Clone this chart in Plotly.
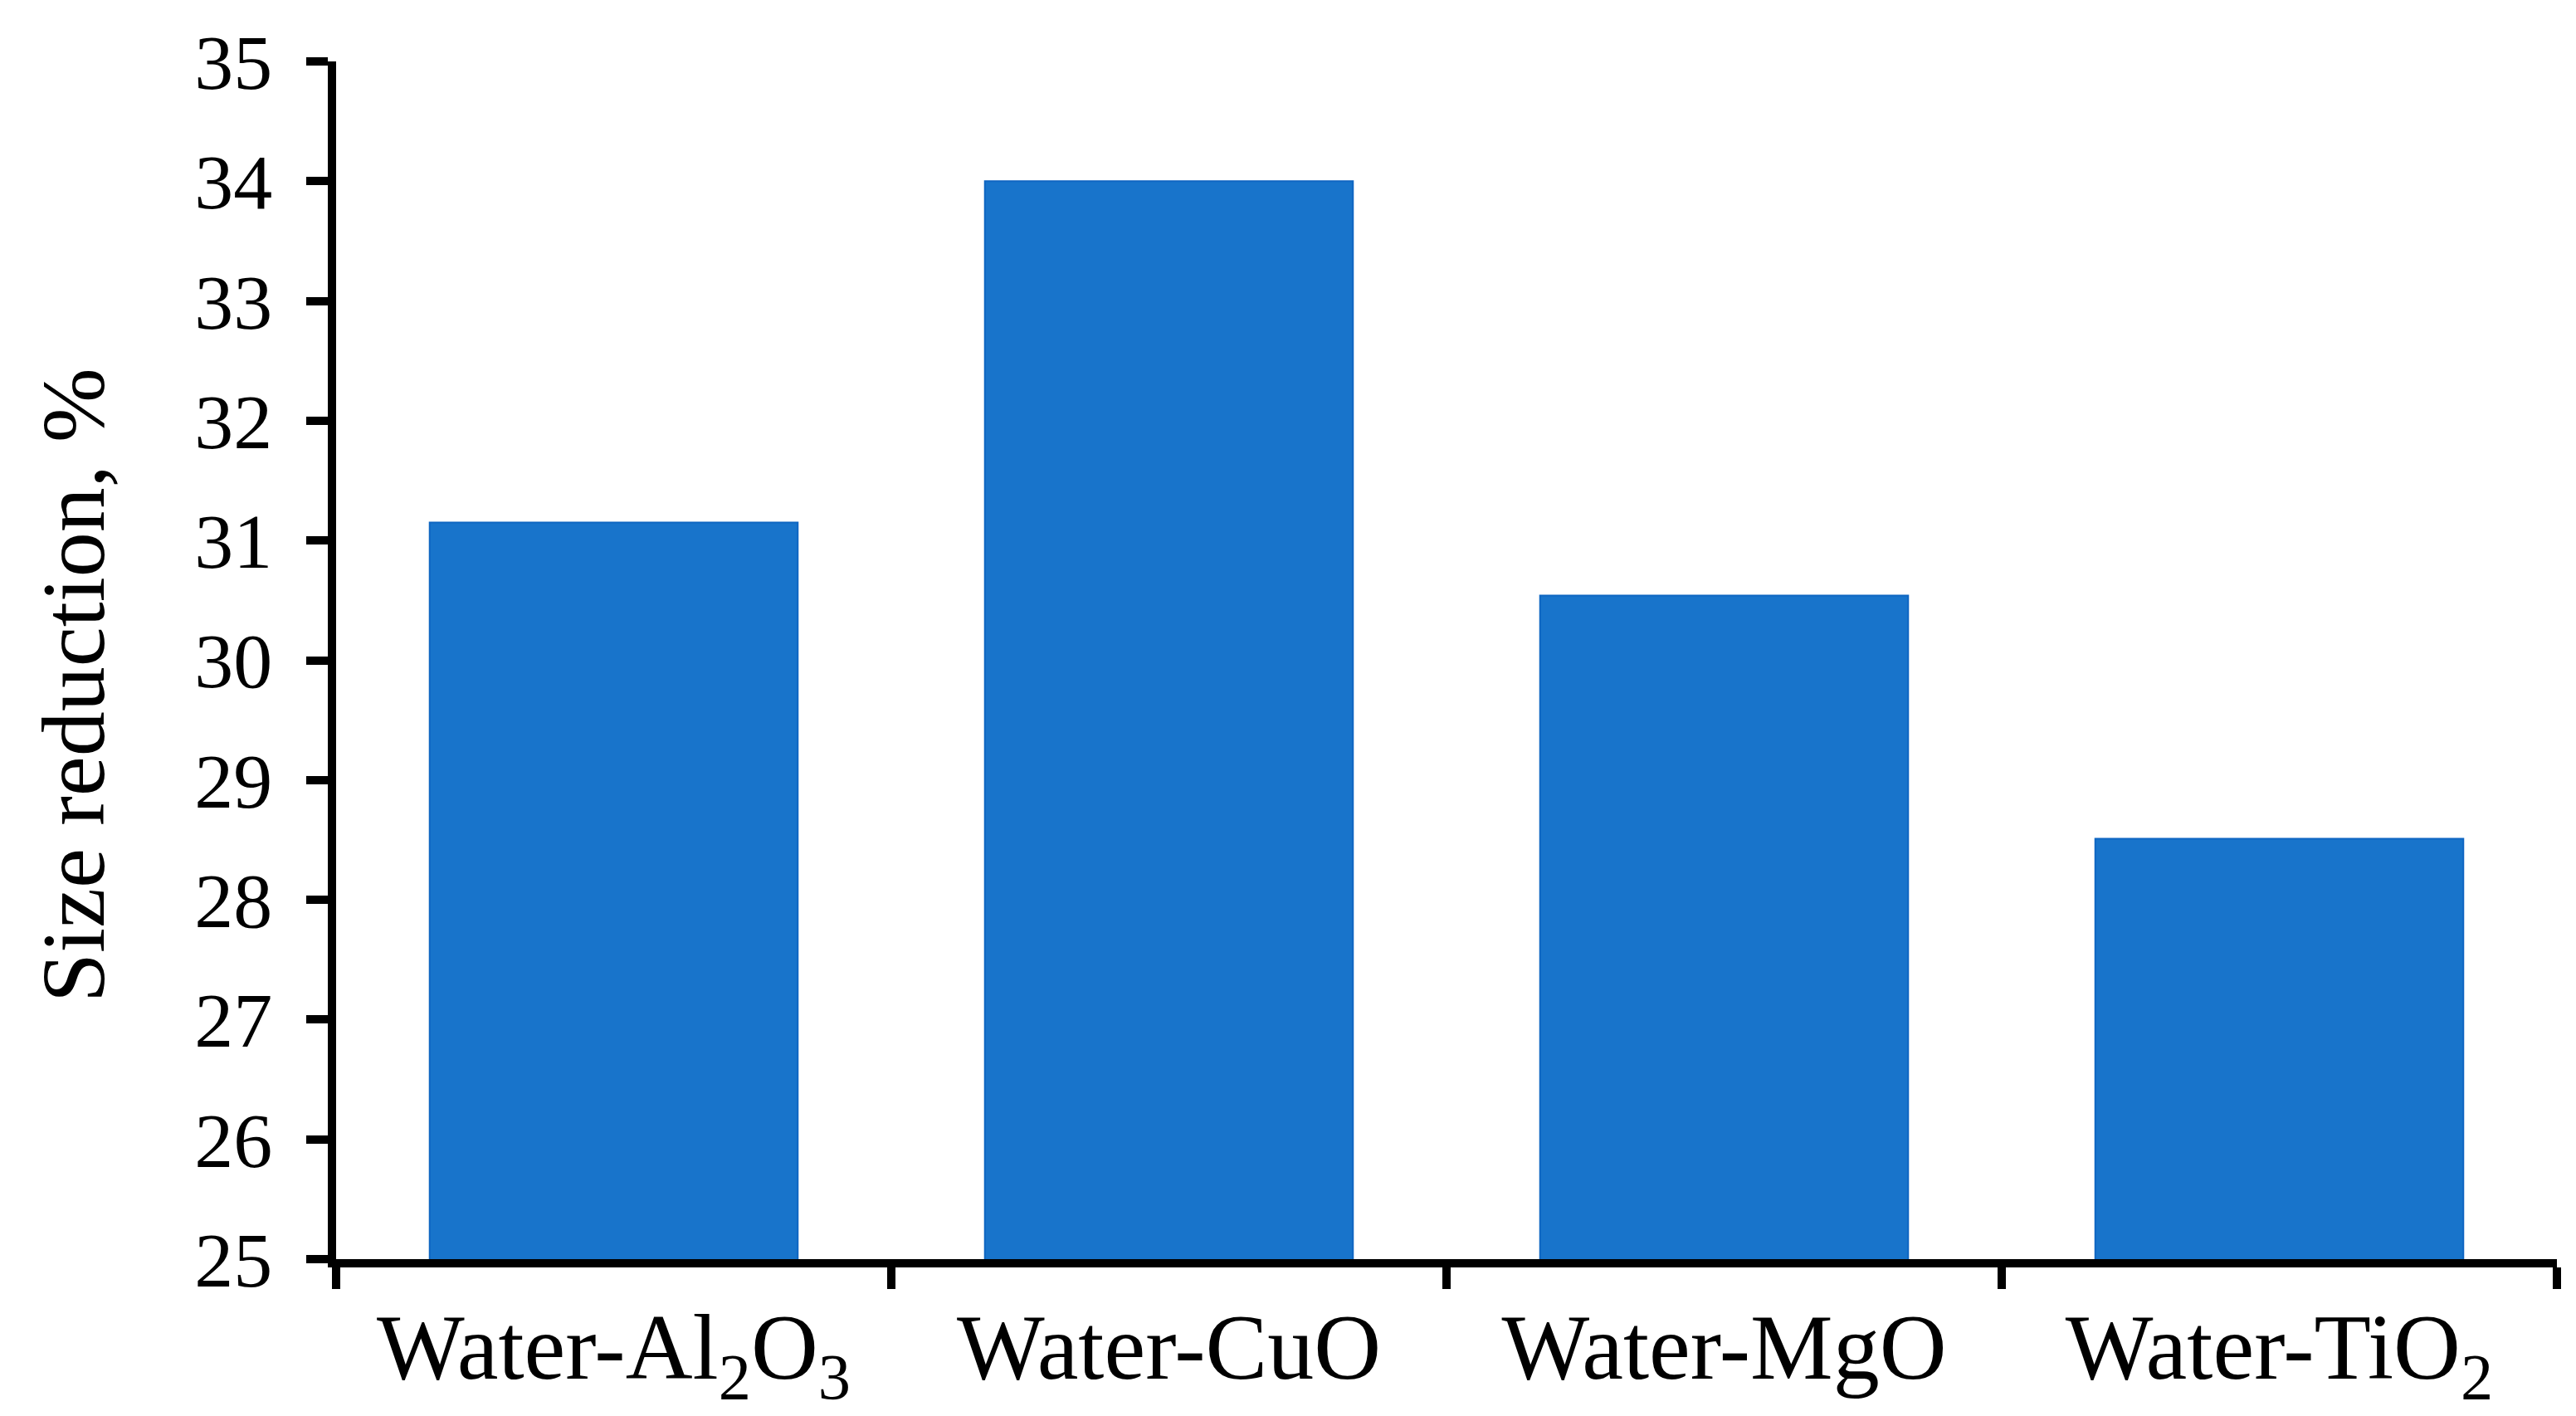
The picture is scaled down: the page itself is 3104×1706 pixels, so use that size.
import plotly.graph_objects as go

categories = ["Water-Al<sub>2</sub>O<sub>3</sub>", "Water-CuO", "Water-MgO", "Water-TiO<sub>2</sub>"]
size_reduction = [31.15, 34.0, 30.54, 28.51]
y_ticks = [25, 26, 27, 28, 29, 30, 31, 32, 33, 34, 35]
y_title = "Size reduction, %"

FONT = "Liberation Serif"

fig = go.Figure(go.Bar(
    x=categories,
    y=size_reduction,
    marker=dict(color="#1874CB", line=dict(color="#0F66C2", width=2)),
))

fig.update_layout(
    width=3104, height=1706,
    margin=dict(l=397, r=31, t=66, b=181),
    paper_bgcolor="white", plot_bgcolor="white",
    bargap=0.337,
    showlegend=False,
    font=dict(family=FONT, color="black"),
)

fig.add_annotation(
    text=y_title, textangle=-90, showarrow=False,
    xref="paper", yref="paper", x=-0.118, y=0.479,
    xanchor="center", yanchor="middle",
    font=dict(family=FONT, size=108, color="black"),
)

fig.update_yaxes(
    range=[25, 35],
    tickvals=y_ticks,
    ticks="outside", ticklen=26, tickwidth=10, tickcolor="black",
    showline=True, linecolor="black", linewidth=10,
    showgrid=False, zeroline=False,
    ticklabelstandoff=22,
    tickfont=dict(family=FONT, size=94, color="black"),
)

fig.update_xaxes(
    ticks="outside", ticklen=26, tickwidth=10, tickcolor="black",
    tickson="boundaries",
    showline=True, linecolor="black", linewidth=10,
    showgrid=False,
    tickfont=dict(family=FONT, size=112, color="black"),
)

fig.write_html("out.html")
